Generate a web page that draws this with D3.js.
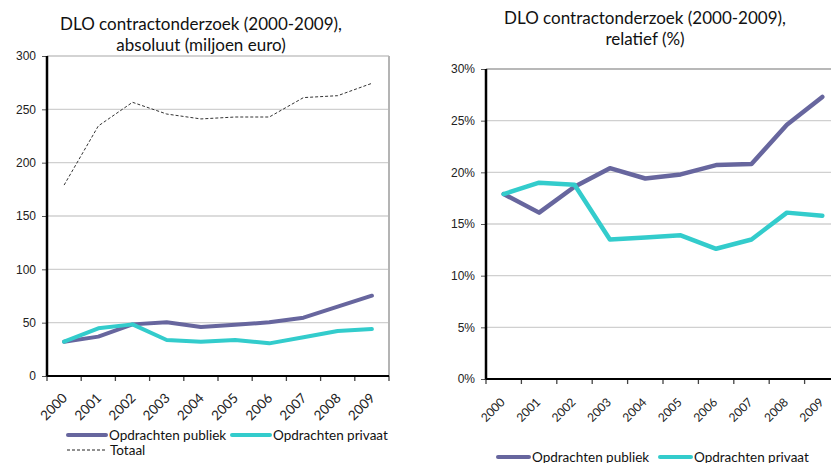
<!DOCTYPE html>
<html><head><meta charset="utf-8">
<script src="https://cdn.jsdelivr.net/npm/d3@7"></script>
<style>
body{margin:0;background:#fff;}
svg{display:block;font-family:"Lato","Open Sans",sans-serif;}
</style></head><body>
<svg id="c" width="831" height="463"></svg>
<script>
const years = ["2000","2001","2002","2003","2004","2005","2006","2007","2008","2009"];
const absPubliek = [32.2,36.9,48.4,50.3,45.9,48.1,50.3,54.7,65,75.3];
const absPrivaat = [32.2,44.7,48.4,33.8,32.2,33.8,30.6,36.3,42.2,44];
const absTotaal  = [179,234.4,256.6,245.6,241,242.8,242.8,261,262.8,274.4];
const relPubliek = [17.9,16.1,18.6,20.4,19.4,19.8,20.7,20.8,24.6,27.3];
const relPrivaat = [17.9,19.0,18.8,13.5,13.7,13.9,12.6,13.5,16.1,15.8];
const absTicks = [0,50,100,150,200,250,300];
const relTicks = [0,5,10,15,20,25,30];
const cPub = "#67669e", cPriv = "#33cccc";

const svg = d3.select("#c");

function chart(o){
  const g = svg.append("g");
  const x = d3.scaleBand().domain(years).range([o.x0,o.x1]);
  const y = d3.scaleLinear().domain([0,o.max]).range([o.y0,o.y1]);
  g.selectAll(".gl").data(o.ticks.filter(t=>t>0)).join("line")
    .attr("x1",o.x0).attr("x2",o.x1).attr("y1",d=>y(d)).attr("y2",d=>y(d))
    .attr("stroke",d=>d===o.max?o.topColor:"#d0d0d0").attr("stroke-width",d=>d===o.max?1.6:1.3);
  if(o.rightBorder){
    g.append("line").attr("x1",o.x1).attr("x2",o.x1).attr("y1",o.y1).attr("y2",o.y0)
      .attr("stroke","#b4b4b4").attr("stroke-width",2);
  }
  const ya = g.append("g").attr("transform",`translate(${o.x0},0)`)
    .call(d3.axisLeft(y).tickValues(o.ticks).tickSize(5).tickPadding(6).tickFormat(o.fmt));
  ya.select(".domain").remove();
  ya.selectAll(".tick line").attr("stroke","#555");
  ya.selectAll("text").attr("font-size",12).attr("fill","#222");
  g.append("line").attr("x1",o.x0).attr("x2",o.x0).attr("y1",o.y1).attr("y2",o.y0+1)
    .attr("stroke","#000").attr("stroke-width",2.5);
  const xa = g.append("g").attr("transform",`translate(0,${o.y0})`)
    .call(d3.axisBottom(x).tickSize(0).tickFormat(""));
  xa.select(".domain").remove();
  const tickPos = d3.range(years.length+1).map(i=>o.x0+i*x.step());
  g.selectAll(".xt").data(tickPos).join("line")
    .attr("x1",d=>d).attr("x2",d=>d).attr("y1",o.y0).attr("y2",o.y0+5)
    .attr("stroke","#444").attr("stroke-width",1.3);
  g.append("line").attr("x1",o.x0).attr("x2",o.x1).attr("y1",o.y0).attr("y2",o.y0)
    .attr("stroke","#000").attr("stroke-width",2);
  g.selectAll(".xl").data(years).join("text")
    .attr("transform",d=>`translate(${x(d)+x.bandwidth()/2+o.lx},${o.y0+o.ly}) rotate(-45)`)
    .attr("text-anchor","end").attr("font-size",o.lfs).attr("fill","#222").text(d=>d);
  const line = d3.line().x((d,i)=>x(years[i])+x.bandwidth()/2).y(d=>y(d));
  o.series.forEach(s=>{
    g.append("path").datum(s.v).attr("d",line).attr("fill","none")
      .attr("stroke",s.c).attr("stroke-width",s.w).attr("stroke-dasharray",s.dash||null)
      .attr("stroke-linejoin","round").attr("stroke-linecap",s.dash?"butt":"round");
  });
  const t = g.append("text").attr("text-anchor","middle").attr("font-size",17).attr("fill","#111");
  o.title.forEach((l,i)=>t.append("tspan").attr("x",o.tx).attr("y",o.ty+i*21).text(l));
  o.legend.forEach(L=>{
    g.append("line").attr("x1",L.x).attr("x2",L.x+L.len).attr("y1",L.y).attr("y2",L.y)
      .attr("stroke",L.c).attr("stroke-width",L.w).attr("stroke-dasharray",L.dash||null)
      .attr("stroke-linecap",L.dash?"butt":"round");
    g.append("text").attr("x",L.x+L.len+3).attr("y",L.y+4.5).attr("font-size",13.5)
      .attr("fill","#111").text(L.t);
  });
}

chart({x0:47,x1:389,y0:376,y1:56,max:300,ticks:absTicks,fmt:d=>d,topColor:"#c4c4c4",rightBorder:true,
  lx:4,ly:23,lfs:13.5,
  series:[{v:absTotaal,c:"#333",w:1,dash:"3,2"},{v:absPubliek,c:cPub,w:4},{v:absPrivaat,c:cPriv,w:4}],
  title:["DLO contractonderzoek (2000-2009),","absoluut (miljoen euro)"],tx:201,ty:30,
  legend:[{x:68,y:435,len:38,c:cPub,w:4,t:"Opdrachten publiek"},
          {x:232,y:435,len:38,c:cPriv,w:4,t:"Opdrachten privaat"},
          {x:67,y:450,len:40,c:"#222",w:1,dash:"3,2",t:"Totaal"}]});

chart({x0:486,x1:840,y0:379,y1:69,max:30,ticks:relTicks,fmt:d=>d+"%",topColor:"#a0a0a0",rightBorder:false,
  lx:2,ly:24,lfs:12,
  series:[{v:relPubliek,c:cPub,w:4.5},{v:relPrivaat,c:cPriv,w:4.5}],
  title:["DLO contractonderzoek (2000-2009),","relatief (%)"],tx:645,ty:24,
  legend:[{x:498,y:457,len:31,c:cPub,w:4,t:"Opdrachten publiek"},
          {x:660,y:457,len:31,c:cPriv,w:4,t:"Opdrachten privaat"}]});
</script>
</body></html>
